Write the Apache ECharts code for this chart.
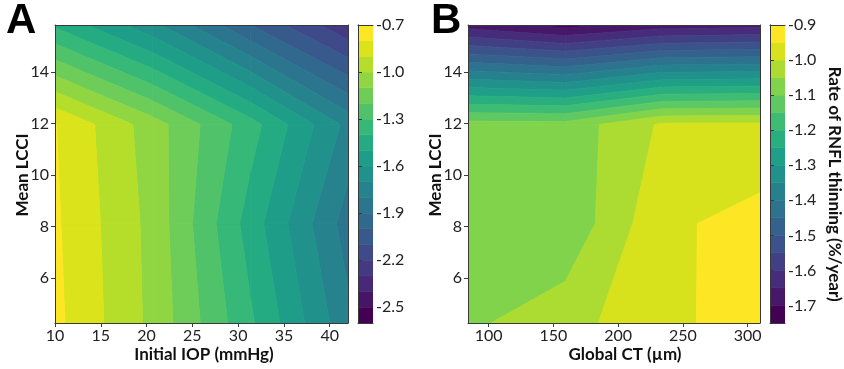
<!DOCTYPE html>
<html><head><meta charset="utf-8">
<script src="https://cdn.jsdelivr.net/npm/echarts@6/dist/echarts.min.js"></script>
<style>html,body{margin:0;padding:0;background:#fff}#c{width:844px;height:369px}</style>
</head><body><div id="c"></div>
<script>
// ---------- Panel A: rate of RNFL thinning vs Initial IOP (x) and Mean LCCI (y) ----------
const iopNodes = [10, 20.67, 31.33, 42];
const lcciNodes = [4.24, 8.11, 11.97, 15.84];
const rateA_lcci424  = [-0.774, -1.026, -1.383, -1.773];
const rateA_lcci811  = [-0.785, -1.032, -1.445, -1.848];
const rateA_lcci1197 = [-0.796, -1.052, -1.357, -1.730];
const rateA_lcci1584 = [-1.417, -1.672, -2.000, -2.280];
const levelsA = [-2.6,-2.5,-2.4,-2.3,-2.2,-2.1,-2.0,-1.9,-1.8,-1.7,-1.6,-1.5,-1.4,-1.3,-1.2,-1.1,-1.0,-0.9,-0.8,-0.7];
const xTicksA = [10, 15, 20, 25, 30, 35, 40];
const cbTicksA = [-2.5, -2.2, -1.9, -1.6, -1.3, -1.0, -0.7];

// ---------- Panel B: rate of RNFL thinning vs Global CT (x) and Mean LCCI (y) ----------
const ctNodes = [84, 159.2, 234.4, 309.6];
const rateB_lcci424  = [-1.059, -1.021, -0.959, -0.933];
const rateB_lcci811  = [-1.075, -1.090, -0.960, -0.932];
const rateB_lcci1197 = [-1.080, -1.081, -0.9925, -0.990];
const rateB_lcci1584 = [-1.672, -1.718, -1.675, -1.665];
const levelsB = [-1.75,-1.7,-1.65,-1.6,-1.55,-1.5,-1.45,-1.4,-1.35,-1.3,-1.25,-1.2,-1.15,-1.1,-1.05,-1.0,-0.95,-0.9];
const xTicksB = [100, 150, 200, 250, 300];
const cbTicksB = [-1.7, -1.6, -1.5, -1.4, -1.3, -1.2, -1.1, -1.0, -0.9];

const yTicks = [6, 8, 10, 12, 14];

// ---------- viridis colormap ----------
const VIR = ['#440154','#471365','#482475','#463480','#414487','#3b528b','#355f8d','#2f6c8e','#2a788e','#25848e','#21918c','#1e9c89','#22a884','#2fb47c','#44bf70','#5ec962','#7ad151','#9bd93c','#bddf26','#dfe318','#fde725'];
function hex2rgb(h){return [parseInt(h.substr(1,2),16),parseInt(h.substr(3,2),16),parseInt(h.substr(5,2),16)];}
function viridis(t){
  t=Math.max(0,Math.min(1,t));
  const f=t*(VIR.length-1), k=Math.min(VIR.length-2,Math.floor(f)), u=f-k;
  const a=hex2rgb(VIR[k]), b=hex2rgb(VIR[k+1]);
  return 'rgb('+a.map((v,i)=>Math.round(v+(b[i]-v)*u)).join(',')+')';
}
function bandColors(levels){
  const n=levels.length-1; const out=[];
  for(let i=0;i<n;i++) out.push(viridis(i/(n-1)));
  return out;
}
const colorsA = bandColors(levelsA), colorsB = bandColors(levelsB);

// ---------- filled contour per grid cell (linear along edges) ----------
function clipPoly(poly, level, keepAbove){
  const out=[];
  for(let k=0;k<poly.length;k++){
    const P=poly[k], Q=poly[(k+1)%poly.length];
    const pin = keepAbove ? P[2]>=level : P[2]<=level;
    const qin = keepAbove ? Q[2]>=level : Q[2]<=level;
    if(pin) out.push(P);
    if(pin!==qin){
      const t=(level-P[2])/(Q[2]-P[2]);
      out.push([P[0]+t*(Q[0]-P[0]), P[1]+t*(Q[1]-P[1]), level]);
    }
  }
  return out;
}
function contourRenderer(xs, ys, rows, levels, colors){
  return function(params, api){
    const i=api.value(2), j=api.value(3);
    const corners=[[xs[i],ys[j],rows[j][i]],[xs[i+1],ys[j],rows[j][i+1]],[xs[i+1],ys[j+1],rows[j+1][i+1]],[xs[i],ys[j+1],rows[j+1][i]]];
    const children=[];
    for(let b=0;b<levels.length-1;b++){
      let p=clipPoly(corners, levels[b], true);
      if(p.length<3) continue;
      p=clipPoly(p, levels[b+1], false);
      if(p.length<3) continue;
      const pts=p.map(q=>api.coord([q[0],q[1]]));
      children.push({type:'polygon', shape:{points:pts}, style:{fill:colors[b], stroke:colors[b], lineWidth:0.8}});
    }
    return {type:'group', children};
  };
}
function cellData(xs, ys){
  const d=[];
  for(let j=0;j<ys.length-1;j++) for(let i=0;i<xs.length-1;i++)
    d.push([(xs[i]+xs[i+1])/2,(ys[j]+ys[j+1])/2,i,j]);
  return d;
}
function colorbarRenderer(levels, colors){
  return function(params, api){
    const b=api.value(2);
    const p0=api.coord([0,levels[b]]), p1=api.coord([1,levels[b+1]]);
    return {type:'rect', shape:{x:p0[0], y:p1[1], width:p1[0]-p0[0], height:p0[1]-p1[1]},
      style:{fill:colors[b], stroke:colors[b], lineWidth:0.6}};
  };
}
function cbData(levels){
  const d=[]; for(let b=0;b<levels.length-1;b++) d.push([0.5,(levels[b]+levels[b+1])/2,b]); return d;
}

const FONT='Lato';
const LINE={show:true, lineStyle:{color:'#3a3a3a', width:1}};
const LBL={fontFamily:FONT, fontSize:16, color:'#222'};
function mainX(grid,min,max,ticks){
  return [{type:'value', gridIndex:grid, min, max, position:'bottom', z:10,
    axisLine:LINE, splitLine:{show:false},
    axisTick:{show:true, length:4, customValues:ticks, lineStyle:{color:'#3a3a3a'}},
    axisLabel:Object.assign({customValues:ticks, margin:5, formatter:v=>String(v)},LBL)},
    {type:'value', gridIndex:grid, min, max, position:'top', z:10, axisLine:LINE,
    axisTick:{show:false}, axisLabel:{show:false}, splitLine:{show:false}}];
}
function mainY(grid,min,max,ticks){
  return [{type:'value', gridIndex:grid, min, max, position:'left', z:10,
    axisLine:LINE, splitLine:{show:false},
    axisTick:{show:true, length:4, customValues:ticks, lineStyle:{color:'#3a3a3a'}},
    axisLabel:Object.assign({customValues:ticks, margin:6, formatter:v=>String(v)},LBL)},
    {type:'value', gridIndex:grid, min, max, position:'right', z:10, axisLine:LINE,
    axisTick:{show:false}, axisLabel:{show:false}, splitLine:{show:false}}];
}
function cbX(grid){
  return [{type:'value', gridIndex:grid, min:0, max:1, position:'bottom', z:10, axisLine:LINE,
    axisTick:{show:false}, axisLabel:{show:false}, splitLine:{show:false}},
    {type:'value', gridIndex:grid, min:0, max:1, position:'top', z:10, axisLine:LINE,
    axisTick:{show:false}, axisLabel:{show:false}, splitLine:{show:false}}];
}
function cbY(grid,levels,ticks){
  const min=levels[0], max=levels[levels.length-1];
  return [{type:'value', gridIndex:grid, min, max, position:'left', z:10, axisLine:LINE,
    axisTick:{show:false}, axisLabel:{show:false}, splitLine:{show:false}},
    {type:'value', gridIndex:grid, min, max, position:'right', z:10, axisLine:LINE, splitLine:{show:false},
    axisTick:{show:true, length:4, customValues:ticks, lineStyle:{color:'#3a3a3a'}},
    axisLabel:Object.assign({customValues:ticks, margin:3, formatter:v=>v.toFixed(1)},LBL)}];
}

const rowsA=[rateA_lcci424, rateA_lcci811, rateA_lcci1197, rateA_lcci1584];
const rowsB=[rateB_lcci424, rateB_lcci811, rateB_lcci1197, rateB_lcci1584];
const yMin=lcciNodes[0], yMax=lcciNodes[lcciNodes.length-1];

const option={
  animation:false,
  backgroundColor:'#fff',
  grid:[
    {left:55, top:25, width:293, height:298},
    {left:358, top:25, width:15, height:298},
    {left:468, top:25, width:292, height:298},
    {left:770, top:25, width:15, height:298}
  ],
  xAxis:[].concat(mainX(0,iopNodes[0],iopNodes[3],xTicksA), cbX(1), mainX(2,ctNodes[0],ctNodes[3],xTicksB), cbX(3)),
  yAxis:[].concat(mainY(0,yMin,yMax,yTicks), cbY(1,levelsA,cbTicksA), mainY(2,yMin,yMax,yTicks), cbY(3,levelsB,cbTicksB)),
  series:[
    {type:'custom', xAxisIndex:0, yAxisIndex:0, clip:true, z:2, renderItem:contourRenderer(iopNodes,lcciNodes,rowsA,levelsA,colorsA), data:cellData(iopNodes,lcciNodes)},
    {type:'custom', xAxisIndex:2, yAxisIndex:2, clip:true, z:2, renderItem:colorbarRenderer(levelsA,colorsA), data:cbData(levelsA)},
    {type:'custom', xAxisIndex:4, yAxisIndex:4, clip:true, z:2, renderItem:contourRenderer(ctNodes,lcciNodes,rowsB,levelsB,colorsB), data:cellData(ctNodes,lcciNodes)},
    {type:'custom', xAxisIndex:6, yAxisIndex:6, clip:true, z:2, renderItem:colorbarRenderer(levelsB,colorsB), data:cbData(levelsB)}
  ],
  graphic:[
    {type:'text', x:6, y:21, style:{text:'A', font:'bold 42px "Liberation Sans"', fill:'#000', align:'left', verticalAlign:'middle'}},
    {type:'text', x:431, y:21, style:{text:'B', font:'bold 42px "Liberation Sans"', fill:'#000', align:'left', verticalAlign:'middle'}},
    {type:'text', x:23, y:175, rotation:Math.PI/2, style:{text:'Mean LCCI', font:'bold 17px Lato', fill:'#111', align:'center', verticalAlign:'middle'}},
    {type:'text', x:436, y:175, rotation:Math.PI/2, style:{text:'Mean LCCI', font:'bold 17px Lato', fill:'#111', align:'center', verticalAlign:'middle'}},
    {type:'text', x:204, y:355, style:{text:'Initial IOP (mmHg)', font:'bold 17px Lato', fill:'#111', align:'center', verticalAlign:'middle'}},
    {type:'text', x:625, y:355, style:{text:'Global CT (µm)', font:'bold 17px Lato', fill:'#111', align:'center', verticalAlign:'middle'}},
    {type:'text', x:834, y:184, rotation:-Math.PI/2, style:{text:'Rate of RNFL thinning (%/year)', font:'bold 17px Lato', fill:'#111', align:'center', verticalAlign:'middle'}}
  ]
};
const chart=echarts.init(document.getElementById('c'),null,{renderer:'canvas'});
chart.setOption(option);
</script></body></html>
